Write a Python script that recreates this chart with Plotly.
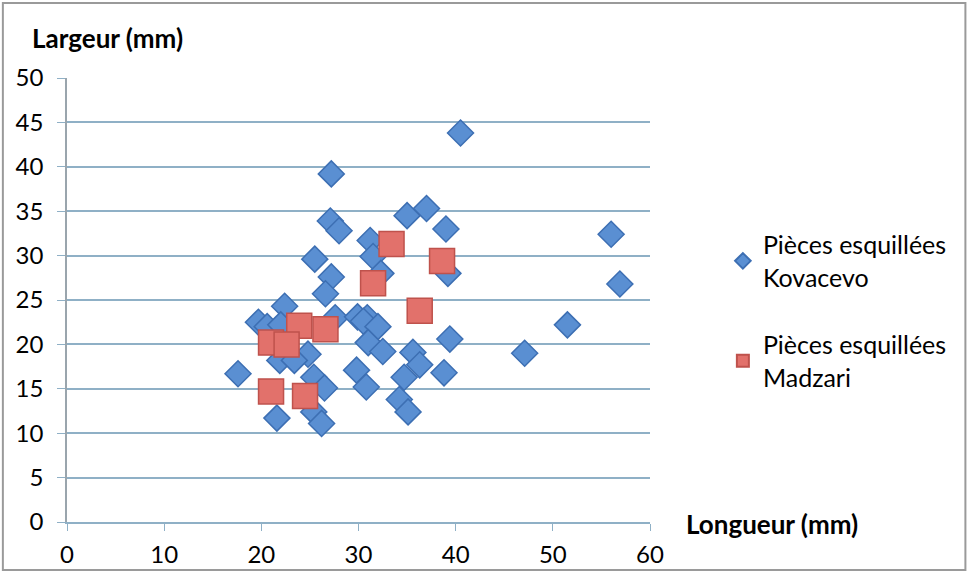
import plotly.graph_objects as go

# Données
kov_longueur = [40.5, 27.2, 37.0, 35.0, 27.1, 28.0, 39.0, 56.0, 31.2, 25.5,
                31.5, 32.3, 27.2, 39.2, 56.9, 26.6, 22.4, 19.7, 20.6, 22.0,
                27.6, 29.9, 30.9, 30.5, 32.0, 51.5, 31.0, 39.4, 24.8, 32.5,
                35.6, 47.1, 21.9, 23.4, 36.3, 29.8, 17.6, 38.8, 25.4, 34.7,
                26.5, 30.8, 34.2, 25.4, 35.1, 21.6, 26.2]
kov_largeur = [43.8, 39.2, 35.3, 34.5, 33.9, 32.8, 33.0, 32.4, 31.7, 29.6,
               29.9, 28.0, 27.6, 28.0, 26.8, 25.7, 24.3, 22.5, 22.0, 22.2,
               23.0, 23.1, 23.0, 22.6, 22.0, 22.2, 20.2, 20.6, 18.9, 19.2,
               19.1, 19.0, 18.2, 18.2, 17.7, 17.1, 16.7, 16.8, 16.3, 16.3,
               15.1, 15.2, 13.8, 12.4, 12.4, 11.7, 11.1]

mad_longueur = [33.4, 31.5, 38.6, 36.3, 23.9, 26.6, 21.0, 22.6, 21.0, 24.5]
mad_largeur = [31.3, 26.9, 29.4, 23.8, 22.1, 21.7, 20.2, 20.0, 14.7, 14.2]

x_ticks = [0, 10, 20, 30, 40, 50, 60]
y_ticks = [0, 5, 10, 15, 20, 25, 30, 35, 40, 45, 50]

FONT = "Lato, 'Noto Sans', sans-serif"
GRID = '#8fb0c6'

fig = go.Figure()

fig.add_trace(go.Scatter(
    x=kov_longueur, y=kov_largeur,
    mode='markers',
    name='Pièces esquillées<br>Kovacevo',
    legendgroup='kov',
    marker=dict(symbol='diamond', size=20, color='#5a8fd2',
                line=dict(width=1.5, color='#3d6fb3')),
))

fig.add_trace(go.Scatter(
    x=mad_longueur, y=mad_largeur,
    mode='markers',
    name='Pièces esquillées<br>Madzari',
    legendgroup='mad',
    marker=dict(symbol='square', size=25, color='#e2716b',
                line=dict(width=1.5, color='#bf524c')),
))

fig.update_layout(
    width=968,
    height=573,
    margin=dict(l=67, r=318, t=78, b=51),
    plot_bgcolor='white',
    paper_bgcolor='white',
    font=dict(family=FONT, size=24, color='black'),
    showlegend=True,
    legend=dict(
        x=1.125, y=0.676, xanchor='left', yanchor='top',
        font=dict(size=25, family=FONT),
        tracegroupgap=32,
        itemsizing='constant',
        bgcolor='rgba(0,0,0,0)',
    ),
    xaxis=dict(
        range=[0, 60],
        tickvals=x_ticks,
        showgrid=False,
        zeroline=False,
        showline=True, linecolor=GRID, linewidth=1.5,
        ticks='outside', ticklen=7, tickcolor=GRID,
        ticklabelstandoff=3,
        automargin=False,
        fixedrange=True,
    ),
    yaxis=dict(
        range=[0, 50],
        tickvals=y_ticks,
        showgrid=True, gridcolor=GRID, gridwidth=1.5,
        zeroline=False,
        showline=True, linecolor='#9aa5ad', linewidth=1.5,
        ticks='outside', ticklen=8, tickcolor=GRID,
        ticklabelstandoff=9,
        automargin=False,
        fixedrange=True,
    ),
    annotations=[
        dict(text='<b>Largeur (mm)</b>', xref='paper', yref='paper',
             x=-0.064, y=1.09, xanchor='left', yanchor='middle',
             showarrow=False, font=dict(size=26, family=FONT)),
        dict(text='<b>Longueur (mm)</b>', xref='paper', yref='paper',
             x=1.058, y=-0.005, xanchor='left', yanchor='middle',
             showarrow=False, font=dict(size=26, family=FONT)),
    ],
    shapes=[
        dict(type='rect', xref='paper', yref='paper',
             x0=-0.110, x1=1.541, y0=-0.108, y1=1.169,
             line=dict(color='#9a9a9a', width=2), layer='below'),
    ],
)

fig.write_html("out.html", config={"displayModeBar": False},
               post_script="document.body.style.margin='0';")
